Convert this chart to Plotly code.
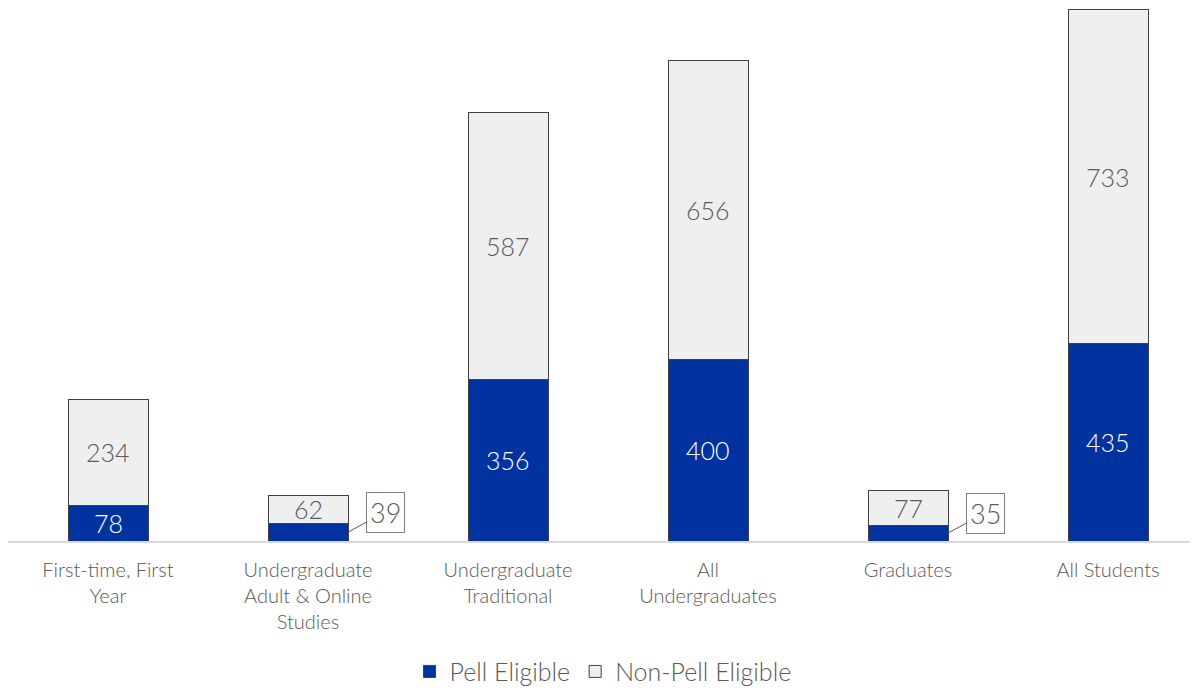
import plotly.graph_objects as go

categories = ["First-time, First<br>Year", "Undergraduate<br>Adult & Online<br>Studies",
              "Undergraduate<br>Traditional", "All<br>Undergraduates", "Graduates", "All Students"]
pell = [78, 39, 356, 400, 35, 435]
non_pell = [234, 62, 587, 656, 77, 733]
callout_threshold = 50

xs = list(range(len(categories)))
font_family = "Lato, Open Sans, sans-serif"
gray_text = "#595959"

fig = go.Figure()
fig.add_trace(go.Bar(
    x=xs, y=pell, name="Pell Eligible", width=0.4,
    marker=dict(color="#0033a0", line=dict(color="#404040", width=1)),
    hoverinfo="skip",
))
fig.add_trace(go.Bar(
    x=xs, y=non_pell, name="Non-Pell Eligible", width=0.4,
    marker=dict(color="#efefef", line=dict(color="#404040", width=1)),
    hoverinfo="skip",
))

label_font = dict(size=25, family=font_family, weight=300)
for i, (p, n) in enumerate(zip(pell, non_pell)):
    if p >= callout_threshold:
        fig.add_annotation(x=i, y=p / 2, text=str(p), showarrow=False,
                           font=dict(color="white", **label_font))
    else:
        fig.add_annotation(
            x=i + 0.2, y=p / 2, xref="x", yref="y",
            text=str(p), showarrow=True, arrowhead=0, arrowwidth=1, arrowcolor="#595959",
            ax=37, ay=-20,
            font=dict(color=gray_text, size=27, family=font_family, weight=300),
            bordercolor="#7f7f7f", borderwidth=1, borderpad=3, bgcolor="white",
        )
    fig.add_annotation(x=i, y=p + n / 2, text=str(n), showarrow=False,
                       font=dict(color=gray_text, **label_font))

fig.update_layout(
    barmode="stack",
    width=1190, height=680,
    margin=dict(l=0, r=0, t=0, b=147, autoexpand=False),
    plot_bgcolor="white", paper_bgcolor="white",
    font=dict(family=font_family, color=gray_text, weight=300),
    xaxis=dict(
        tickmode="array", tickvals=xs, ticktext=categories,
        range=[-0.5, 5.45], showgrid=False, zeroline=False,
        showline=True, linecolor="#d9d9d9", linewidth=2,
        tickfont=dict(size=20, color=gray_text, family=font_family, weight=300),
        ticks="", ticklabelstandoff=10, automargin=False, fixedrange=True,
    ),
    yaxis=dict(range=[0, 1172], visible=False, showgrid=False, fixedrange=True),
    legend=dict(
        orientation="h", x=0.5, xanchor="center",
        yref="container", y=0.024, yanchor="middle",
        font=dict(size=25, color=gray_text, family=font_family, weight=300),
        traceorder="normal",
    ),
)

fig.write_html("out.html")
